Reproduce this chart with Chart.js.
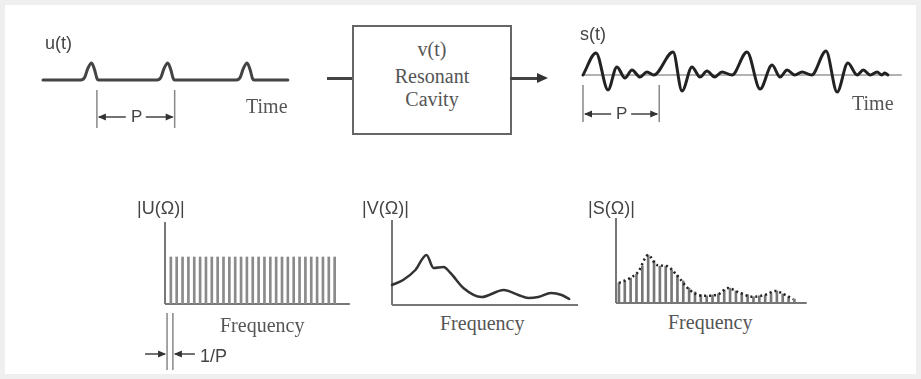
<!DOCTYPE html>
<html>
<head>
<meta charset="utf-8">
<script src="https://cdn.jsdelivr.net/npm/chart.js@4.4.1/dist/chart.umd.min.js"></script>
<style>
  html, body { margin: 0; padding: 0; }
  body { width: 921px; height: 379px; background: #efefef; position: relative; overflow: hidden; }
  #page { position: absolute; left: 5px; top: 5px; width: 911px; height: 369px; background: #fff; }
  canvas, .lbl, .box, .wire { position: absolute; }
  .lbl { white-space: nowrap; line-height: 1; }
  .sans { font-family: "Liberation Sans", Arial, sans-serif; color: #444; font-size: 18px; }
  .serif { font-family: "Liberation Serif", "Times New Roman", serif; color: #555; font-size: 20px; }
  .box { left: 352px; top: 25px; width: 156px; height: 106px; border: 2px solid #666; }
  .wire { height: 3px; background: #444; top: 77px; }
</style>
</head>
<body>
<div id="page"></div>

<canvas id="uChart"></canvas>
<canvas id="sChart"></canvas>
<canvas id="uSpec"></canvas>
<canvas id="vSpec"></canvas>
<canvas id="sSpec"></canvas>

<!-- block diagram -->
<div class="wire" style="left:327px; width:25px;"></div>
<div class="box"></div>
<div class="wire" style="left:510px; width:30px;"></div>
<div style="position:absolute; left:537px; top:73px; width:0; height:0; border-top:5px solid transparent; border-bottom:5px solid transparent; border-left:11px solid #333;"></div>

<div class="lbl serif" style="left:352px; width:160px; text-align:center; top:39px;">v(t)</div>
<div class="lbl serif" style="left:352px; width:160px; text-align:center; top:66px;">Resonant</div>
<div class="lbl serif" style="left:352px; width:160px; text-align:center; top:89px;">Cavity</div>

<div class="lbl sans" style="left:45px; top:34px;">u(t)</div>
<div class="lbl sans" style="left:131px; top:108px; font-size:17px;">P</div>
<div class="lbl serif" style="left:246px; top:96px;">Time</div>

<div class="lbl sans" style="left:580px; top:25px;">s(t)</div>
<div class="lbl sans" style="left:616px; top:105px; font-size:17px;">P</div>
<div class="lbl serif" style="left:852px; top:93px;">Time</div>

<div class="lbl sans" style="left:137px; top:199px;">|U(Ω)|</div>
<div class="lbl serif" style="left:220px; top:315px;">Frequency</div>
<div class="lbl sans" style="left:200px; top:347px;">1/P</div>

<div class="lbl sans" style="left:362px; top:199px;">|V(Ω)|</div>
<div class="lbl serif" style="left:440px; top:313px;">Frequency</div>

<div class="lbl sans" style="left:588px; top:199px;">|S(Ω)|</div>
<div class="lbl serif" style="left:668px; top:312px;">Frequency</div>

<script>
// ---- data (time in units of the period P, frequency in units of 1/P) ----
const uTime = [0, 0.49, 0.54, 0.58, 0.63, 0.67, 0.70, 0.72,
               1.48, 1.53, 1.57, 1.62, 1.66, 1.69, 1.71,
               2.51, 2.56, 2.60, 2.65, 2.69, 2.72, 2.74, 3.18];
const uAmp  = [0, 0, 0.15, 0.65, 1, 0.6, 0.1, 0,
               0, 0.15, 0.65, 1, 0.6, 0.1, 0,
               0, 0.15, 0.65, 1, 0.6, 0.1, 0, 0];
const uMarks = [0.70, 1.71];

const sTime = [0, 0.169, 0.325, 0.44, 0.545, 0.636, 0.74, 0.83, 0.92,
               1.17, 1.286, 1.415, 1.52, 1.61, 1.71, 1.805, 1.935,
               2.13, 2.30, 2.455, 2.56, 2.65, 2.75, 2.845, 2.97,
               3.156, 3.30, 3.44, 3.56, 3.64, 3.73, 3.82, 3.88, 3.92, 3.96];
const sAmp  = [0, 0.96, -0.65, 0.35, -0.13, 0.22, -0.09, 0.13, 0,
               1.0, -0.7, 0.35, -0.09, 0.17, -0.09, 0.13, 0,
               1.0, -0.61, 0.43, -0.09, 0.22, 0, 0.13, 0,
               1.04, -0.74, 0.52, 0, 0.22, 0, 0.13, 0, 0.09, 0];
const sAxisEnd = 4.14;
const sMarks = [0, 0.99];

const uHarm = [1, 2, 3, 4, 5, 6, 7, 8, 9, 10, 11, 12, 13, 14, 15, 16, 17, 18, 19, 20,
               21, 22, 23, 24, 25, 26, 27, 28, 29];
const uMag  = [1, 1, 1, 1, 1, 1, 1, 1, 1, 1, 1, 1, 1, 1, 1, 1, 1, 1, 1, 1,
               1, 1, 1, 1, 1, 1, 1, 1, 1];
const invPMarks = [0.35, 1.35];

const vFreq = [0, 1.9, 4.0, 5.9, 7.1, 8.8, 10.0, 12.2, 15.3, 19.1, 21.6, 23.3, 25.0, 27.2, 29.0, 30.3];
const vMag  = [0.40, 0.50, 0.70, 1.0, 0.74, 0.76, 0.64, 0.34, 0.16, 0.30, 0.20, 0.14, 0.16, 0.24, 0.20, 0.12];

const sHarm = [0.5, 1.5, 2.5, 3.5, 4.5, 5.5, 6.5, 7.5, 8.5, 9.5, 10.5, 11.5, 12.5, 13.5, 14.5, 15.5,
               16.5, 17.5, 18.5, 19.5, 20.5, 21.5, 22.5, 23.5, 24.5, 25.5, 26.5, 27.5, 28.5, 29.5, 30.5];
const sMag  = [0.42, 0.46, 0.52, 0.60, 0.77, 1.0, 0.88, 0.77, 0.77, 0.69, 0.58, 0.46, 0.31, 0.23, 0.17, 0.15,
               0.17, 0.19, 0.27, 0.31, 0.25, 0.21, 0.17, 0.13, 0.15, 0.17, 0.21, 0.25, 0.19, 0.13, 0.08];
const sEnvFreq = [0.5, 2.4, 3.8, 5.5, 7.0, 8.7, 10.4, 12.6, 14.9, 17.3, 19.1, 21.2, 23.4, 25.5, 27.2, 28.9, 30.3];
const sEnvMag  = [0.42, 0.52, 0.65, 1.0, 0.79, 0.77, 0.58, 0.27, 0.15, 0.17, 0.31, 0.21, 0.13, 0.17, 0.25, 0.17, 0.08];

const zip = (xs, ys) => xs.map((x, i) => ({ x: x, y: ys[i] }));

// axis lines drawn from the data origin
function axesPlugin(xEnd, yTop, color, width) {
  return {
    id: 'axes',
    beforeDatasetsDraw(chart) {
      const { ctx, scales: { x, y } } = chart;
      ctx.save();
      ctx.strokeStyle = color;
      ctx.lineWidth = width;
      ctx.beginPath();
      ctx.moveTo(x.getPixelForValue(0), y.getPixelForValue(0));
      ctx.lineTo(x.getPixelForValue(xEnd), y.getPixelForValue(0));
      if (yTop != null) {
        ctx.moveTo(x.getPixelForValue(0), y.getPixelForValue(0));
        ctx.lineTo(x.getPixelForValue(0), y.getPixelForValue(yTop));
      }
      ctx.stroke();
      ctx.restore();
    }
  };
}

function arrowHead(ctx, tipX, y, dir) {
  ctx.beginPath();
  ctx.moveTo(tipX, y);
  ctx.lineTo(tipX - dir * 8, y - 3.5);
  ctx.lineTo(tipX - dir * 8, y + 3.5);
  ctx.closePath();
  ctx.fill();
}

// period / spacing dimension markers
function markerPlugin(xs, top, bottom, arrowY, mode) {
  return {
    id: 'marker',
    afterDatasetsDraw(chart) {
      const { ctx, scales: { x, y } } = chart;
      const base = y.getPixelForValue(0);
      const a = x.getPixelForValue(xs[0]);
      const b = x.getPixelForValue(xs[1]);
      const ay = base + arrowY;
      ctx.save();
      ctx.strokeStyle = '#888';
      ctx.lineWidth = 1.5;
      ctx.beginPath();
      ctx.moveTo(a, base + top); ctx.lineTo(a, base + bottom);
      ctx.moveTo(b, base + top); ctx.lineTo(b, base + bottom);
      ctx.stroke();
      ctx.strokeStyle = '#444';
      ctx.fillStyle = '#333';
      ctx.beginPath();
      if (mode === 'inside') {
        const mid = (a + b) / 2;
        ctx.moveTo(a + 2, ay); ctx.lineTo(mid - 10, ay);
        ctx.moveTo(mid + 10, ay); ctx.lineTo(b - 2, ay);
        ctx.stroke();
        arrowHead(ctx, a + 1, ay, -1);
        arrowHead(ctx, b - 1, ay, 1);
      } else {
        ctx.moveTo(a - 22, ay); ctx.lineTo(a - 2, ay);
        ctx.moveTo(b + 2, ay); ctx.lineTo(b + 22, ay);
        ctx.stroke();
        arrowHead(ctx, a - 1, ay, 1);
        arrowHead(ctx, b + 1, ay, -1);
      }
      ctx.restore();
    }
  };
}

// one small chart per panel; box = [left, top, width, height] on the page,
// origin = page pixel of data (0,0), k = pixels per data unit
function panel(id, box, origin, k, datasets, plugins) {
  const cv = document.getElementById(id);
  cv.width = box[2];
  cv.height = box[3];
  cv.style.left = box[0] + 'px';
  cv.style.top = box[1] + 'px';
  cv.style.width = box[2] + 'px';
  cv.style.height = box[3] + 'px';
  new Chart(cv, {
    type: 'line',
    data: { datasets: datasets },
    options: {
      responsive: false,
      animation: false,
      events: [],
      layout: { padding: 0 },
      plugins: { legend: { display: false }, tooltip: { enabled: false } },
      elements: { point: { radius: 0 } },
      scales: {
        x: { type: 'linear', display: false, offset: false,
             min: (box[0] - origin[0]) / k[0], max: (box[0] + box[2] - origin[0]) / k[0] },
        y: { type: 'linear', display: false,
             min: (origin[1] - box[1] - box[3]) / k[1], max: (origin[1] - box[1]) / k[1] }
      }
    },
    plugins: plugins
  });
}

const curve = (data, color, width, extra) => Object.assign({
  data: data, borderColor: color, borderWidth: width, pointRadius: 0,
  cubicInterpolationMode: 'monotone', fill: false, clip: false,
  borderCapStyle: 'round', borderJoinStyle: 'round'
}, extra || {});

const bars = (data, color) => ({
  type: 'bar', data: data, backgroundColor: color, borderWidth: 0,
  barThickness: 2, grouped: false, order: 2
});

// u(t) pulse train
panel('uChart', [35, 50, 262, 85], [43, 80], [77, 17],
  [curve(zip(uTime, uAmp), '#444', 3)],
  [markerPlugin(uMarks, 10, 48, 37, 'inside')]);

// s(t) cavity output
panel('sChart', [575, 35, 335, 95], [583, 75], [77, 23],
  [curve(zip(sTime, sAmp), '#222', 3, { order: 0 })],
  [axesPlugin(sAxisEnd, null, '#999', 1.5), markerPlugin(sMarks, 10, 47, 39, 'inside')]);

// |U(Ω)| line spectrum
panel('uSpec', [140, 212, 215, 163], [165, 304], [5.85, 47],
  [bars(zip(uHarm, uMag), '#8a8a8a')],
  [axesPlugin(31.6, 1.745, '#777', 2), markerPlugin(invPMarks, 9, 66, 50, 'outside')]);

// |V(Ω)| cavity response
panel('vSpec', [385, 212, 200, 100], [392, 305], [5.85, 50],
  [curve(zip(vFreq, vMag), '#333', 2.5)],
  [axesPlugin(31.8, 1.7, '#777', 2)]);

// |S(Ω)| = sampled response
panel('sSpec', [608, 210, 205, 100], [616, 303], [5.85, 48],
  [curve(zip(sEnvFreq, sEnvMag), '#222', 2.5, { borderDash: [2, 3], borderCapStyle: 'butt', order: 0 }),
   bars(zip(sHarm, sMag), '#777')],
  [axesPlugin(32.6, 1.77, '#777', 2)]);
</script>
</body>
</html>
